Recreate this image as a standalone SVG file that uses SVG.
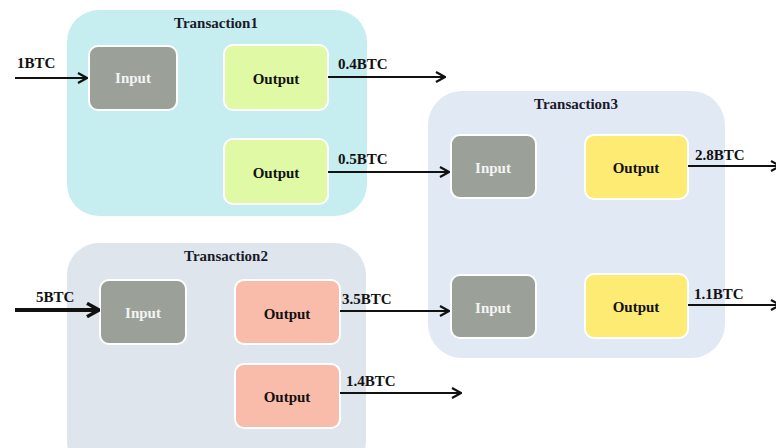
<svg xmlns="http://www.w3.org/2000/svg" width="776" height="448" viewBox="0 0 776 448">
<defs>
<style>
.t{font-family:"Liberation Serif","Times New Roman",serif;font-weight:bold;font-size:15px;fill:#111;}
.title{font-family:"Liberation Serif","Times New Roman",serif;font-weight:bold;font-size:15px;fill:#1a1a2a;text-anchor:middle;}
.in{fill:#9ba199;stroke:#ffffff;stroke-width:2;}
.outg{fill:#dff9a4;stroke:#ffffff;stroke-width:2;}
.outs{fill:#fabcaa;stroke:#ffffff;stroke-width:2;}
.outy{fill:#fdeb74;stroke:#ffffff;stroke-width:2;}
.lbl{font-family:"Liberation Serif","Times New Roman",serif;font-weight:bold;font-size:15px;text-anchor:middle;}
.w{fill:#f4f4f4;}
.k{fill:#111;}
.c{stroke:#111;stroke-width:2;fill:none;}
</style>
<marker id="ah" viewBox="0 0 12 12" refX="11" refY="6" markerWidth="12" markerHeight="12" markerUnits="userSpaceOnUse" orient="auto">
<path d="M2,1 L11,6 L2,11" fill="none" stroke="#111" stroke-width="2.2"/>
</marker>
<marker id="ahb" viewBox="0 0 12 12" refX="11" refY="6" markerWidth="16" markerHeight="16" markerUnits="userSpaceOnUse" orient="auto">
<path d="M2,1 L11,6 L2,11" fill="none" stroke="#111" stroke-width="2.6"/>
</marker>
</defs>
<rect width="776" height="448" fill="#ffffff"/>

<g id="transaction1">
<rect x="67" y="10" width="300" height="206" rx="32" fill="#c6eef0"/>
<text class="title" x="216" y="28">Transaction1</text>
</g>
<g id="transaction2">
<rect x="67" y="243" width="299" height="230" rx="32" fill="#dfe5ec"/>
<text class="title" x="226" y="261">Transaction2</text>
</g>
<g id="transaction3">
<rect x="428" y="91" width="297" height="267" rx="34" fill="#e1e9f5"/>
<text class="title" x="576" y="109">Transaction3</text>
</g>

<g id="t1-input">
<rect class="in" x="89" y="46" width="88" height="64" rx="9"/>
<text class="lbl w" x="133" y="83">Input</text>
</g>
<g id="t1-output1">
<rect class="outg" x="224" y="45" width="104" height="65" rx="9"/>
<text class="lbl k" x="276" y="84">Output</text>
</g>
<g id="t1-output2">
<rect class="outg" x="224" y="139" width="104" height="65" rx="9"/>
<text class="lbl k" x="276" y="178">Output</text>
</g>

<g id="t2-input">
<rect class="in" x="100" y="280" width="86" height="64" rx="9"/>
<text class="lbl w" x="143" y="318">Input</text>
</g>
<g id="t2-output1">
<rect class="outs" x="235" y="280" width="105" height="64" rx="9"/>
<text class="lbl k" x="287" y="319">Output</text>
</g>
<g id="t2-output2">
<rect class="outs" x="235" y="364" width="105" height="64" rx="9"/>
<text class="lbl k" x="287" y="402">Output</text>
</g>

<g id="t3-input1">
<rect class="in" x="451" y="135" width="85" height="63" rx="9"/>
<text class="lbl w" x="493" y="173">Input</text>
</g>
<g id="t3-output1">
<rect class="outy" x="585" y="135" width="103" height="64" rx="9"/>
<text class="lbl k" x="636" y="173">Output</text>
</g>
<g id="t3-input2">
<rect class="in" x="451" y="275" width="85" height="63" rx="9"/>
<text class="lbl w" x="493" y="313">Input</text>
</g>
<g id="t3-output2">
<rect class="outy" x="585" y="274" width="103" height="64" rx="9"/>
<text class="lbl k" x="636" y="312">Output</text>
</g>

<g id="connectors">
<line class="c" x1="15" y1="78" x2="87" y2="78" marker-end="url(#ah)"/>
<line class="c" x1="328" y1="77" x2="445" y2="77" marker-end="url(#ah)"/>
<line class="c" x1="328" y1="172" x2="449" y2="172" marker-end="url(#ah)"/>
<line class="c" x1="688" y1="166" x2="780" y2="166" marker-end="url(#ah)"/>
<line class="c" x1="688" y1="305" x2="780" y2="305" marker-end="url(#ah)"/>
<line x1="15" y1="310" x2="99" y2="310" stroke="#111" stroke-width="4" marker-end="url(#ahb)"/>
<line class="c" x1="340" y1="311" x2="449" y2="311" marker-end="url(#ah)"/>
<line class="c" x1="340" y1="393" x2="461" y2="393" marker-end="url(#ah)"/>
<text class="t" x="17" y="68">1BTC</text>
<text class="t" x="338" y="69">0.4BTC</text>
<text class="t" x="338" y="164">0.5BTC</text>
<text class="t" x="695" y="160">2.8BTC</text>
<text class="t" x="694" y="299">1.1BTC</text>
<text class="t" x="36" y="302">5BTC</text>
<text class="t" x="342" y="304">3.5BTC</text>
<text class="t" x="346" y="386">1.4BTC</text>
</g>
</svg>
